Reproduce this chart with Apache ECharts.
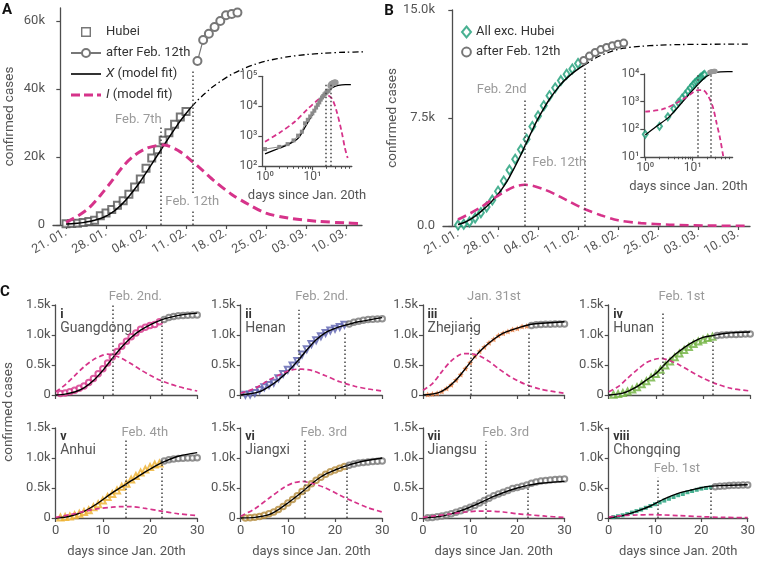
<!DOCTYPE html>
<html><head><meta charset="utf-8">
<script src="https://cdn.jsdelivr.net/npm/echarts@6/dist/echarts.min.js"></script>
<style>html,body{margin:0;padding:0;background:#fff}#c{width:758px;height:565px}</style>
</head><body><div id="c"></div>
<script>
// ---------- shared tick labels ----------
const dateTickDays = [1, 8, 15, 22, 29, 36, 43, 50];
const dateTickLabels = ['21. 01.', '28. 01.', '04. 02.', '11. 02.', '18. 02.', '25. 02.', '03. 03.', '10. 03.'];
const logMajorTicks = [1, 10];
const logMinorTicks = [2, 3, 4, 5, 6, 7, 8, 9, 20, 30, 40, 50, 60];

// ---------- Panel A : Hubei ----------
const hubeiDays = [1,2,3,4,5,6,7,8,9,10,11,12,13,14,15,16,17,18,19,20,21,22];
const hubeiCases = [375,444,549,729,1052,1423,2714,3554,4586,5806,7153,9074,11177,13522,16678,19665,22112,24953,27100,29631,31728,33366];
const hubeiAfterDays = [24,25,26,27,28,29,30,31];
const hubeiAfterCases = [48206,54406,56249,58182,59989,61682,62031,62442];
const hubeiFitXDays = [1,2,3,4,5,6,7,8,9,10,11,12,13,14,15,16,17,18,19,20,21,22,23];
const hubeiFitX = [280,350,500,700,1000,1400,1900,2600,3600,4900,6500,8400,10500,12800,15300,17900,20500,23100,25700,28200,30600,32800,34800];
const hubeiFitXExtDays = [23,24,25,26,27,28,30,32,34,36,38,40,43,46,50,53];
const hubeiFitXExt = [34800,36600,38200,39700,41000,42200,44300,45900,47200,48200,48900,49500,50100,50500,50800,50900];
const hubeiFitIDays = [1,3,5,7,9,11,13,15,17,18,19,21,23,25,27,30,33,36,40,45,50,52.5];
const hubeiFitI = [800,2600,5000,8700,12900,17300,20500,22500,23400,23500,23200,21500,18800,15900,12900,9000,6000,3500,2000,1100,600,450];
const hubeiMarkDays = [17.5, 23.1];
const hubeiMarkTops = [28900, 45100];
// inset A (log-log)
const hubeiInsetXDays = [1,2,3,5,7,10,14.5,20,25,30,35,42,50,65];
const hubeiInsetX = [260,400,520,860,2000,5300,14700,30000,40000,46000,49500,52000,52500,52500];
const hubeiInsetIDays = [1,2,4.3,8.2,14.5,19.2,25.6,32.7,41.6,48.8,55.6];
const hubeiInsetI = [660,1300,3100,8500,18500,24500,18500,6600,1400,400,190];
const hubeiInsetMarkDays = [19.2, 24.8];

// ---------- Panel B : all except Hubei ----------
const otherDays = [1,2,3,4,5,6,7,8,9,10,11,12,13,14,15,16,17,18,19,20,21,22];
const otherCases = [65,127,281,558,923,1321,1801,2420,3125,3886,4638,5306,6028,6916,7646,8353,9049,9593,10098,10540,10910,11287];
const otherAfterDays = [23,24,25,26,27,28,29,30];
const otherAfterCases = [11500,11800,12050,12250,12400,12520,12620,12700];
const otherFitXDays = [1,2,3,4,5,6,7,8,9,10,11,12,13,14,15,16,17,18,19,20,21,22,23];
const otherFitX = [100,230,420,680,1000,1350,1750,2200,2750,3400,4150,4950,5800,6650,7450,8150,8800,9350,9850,10250,10600,10900,11150];
const otherFitXExtDays = [23,24,25,26,27,28,30,33,36,40,45,52];
const otherFitXExt = [11150,11400,11650,11850,12000,12150,12350,12480,12550,12600,12620,12630];
const otherFitIDays = [1,3,5,7,9,11,12.7,14,16,18,20,23,26,29,33,38,45,52];
const otherFitI = [450,850,1300,1850,2350,2750,2860,2800,2550,2200,1800,1200,750,400,200,90,30,10];
const otherMarkDays = [12.7, 23.1];
const otherMarkTops = [8860, 11100];
// inset B
const otherInsetXDays = [1,1.68,3.2,6.2,11.8,19.2,31,55,70];
const otherInsetX = [62,123,280,1000,3500,8000,11500,12200,12200];
const otherInsetIDays = [1,2.33,5.2,8.5,12.8,16.3,20.9,26.6,32.3,38,44.6];
const otherInsetI = [430,530,1000,1700,2600,2600,1700,660,160,47,10];
const otherInsetMarkDays = [12.7, 24];

// ---------- Panel C : provinces ----------
const provDays = [1,2,3,4,5,6,7,8,9,10,11,12,13,14,15,16,17,18,19,20,21,22];
const provAfterDays = [23,24,25,26,27,28,29,30];
const provNumerals = ['i','ii','iii','iv','v','vi','vii','viii'];
const provNames = ['Guangdong','Henan','Zhejiang','Hunan','Anhui','Jiangxi','Jiangsu','Chongqing'];
const provPeakLabels = ['Feb. 2nd.','Feb. 2nd.','Jan. 31st','Feb. 1st','Feb. 4th','Feb. 3rd','Feb. 3rd','Feb. 1st'];
const provPeakDays = [12.1,12.4,10.2,11.4,14.8,13.5,13.4,10.6];
const provPeakTops = [1500,1420,1330,1400,1300,1300,1280,670];
const provPeakLabelY = [1630,1630,1630,1630,1420,1420,1420,820];
const provCutDays = [22.4,22.1,22.4,22.0,22.4,22.4,22.3,22.0];
const provCutTops = [1220,1030,1050,890,970,920,580,530];

const gdCases = [26,32,53,78,111,151,207,277,354,436,535,632,725,813,895,970,1034,1095,1131,1159,1177,1219];
const gdAfter = [1260,1290,1310,1320,1325,1330,1333,1335];
const gdXDays = [0,2,4,6,8,10,12,14,16,18,20,22,24,27,30];
const gdX = [0,15,50,120,240,410,610,800,960,1080,1170,1240,1290,1340,1365];
const gdIDays = [0,2,4,6,8,10,11,12,14,16,18,20,22,24,26,28,30];
const gdI = [55,170,320,470,590,665,680,670,610,520,420,330,250,190,140,100,67];

const hnCases = [5,9,32,83,128,168,206,278,352,422,493,566,675,764,851,914,981,1033,1073,1105,1135,1169];
const hnAfter = [1184,1212,1231,1246,1257,1262,1265,1270];
const hnXDays = [0,2,4,6,8,10,12,14,16,18,20,22,25,30];
const hnX = [0,20,55,140,250,390,560,750,920,1040,1110,1160,1220,1290];
const hnIDays = [0,3,6,8,10,12,13,15,18,21,24,27,30];
const hnI = [30,110,250,330,400,430,430,410,320,220,150,100,67];

const zjCases = [8,18,30,60,110,170,250,340,440,540,650,730,800,870,930,990,1030,1060,1090,1110,1140,1150];
const zjAfter = [1160,1170,1175,1180,1180,1185,1185,1185];
const zjXDays = [0,3,5,7,9,11,13,15,17,19,21,23,26,30];
const zjX = [0,30,110,250,440,640,800,930,1030,1090,1140,1180,1200,1220];
const zjIDays = [0,2,4,6,8,9,10,12,14,16,18,20,22,25,30];
const zjI = [80,190,390,570,680,690,690,650,560,440,330,240,170,95,30];

const hunCases = [5,15,35,60,90,130,180,230,290,350,420,490,560,630,690,750,800,850,890,920,950,970];
const hunAfter = [990,1000,1005,1010,1010,1012,1015,1015];
const hunXDays = [0,3,6,8,10,12,14,16,18,20,22,25,30];
const hunX = [0,30,140,250,360,520,670,790,890,960,990,1030,1050];
const hunIDays = [0,2,4,6,8,10,11,13,15,17,20,23,26,30];
const hunI = [55,140,280,420,540,600,610,570,500,410,280,180,110,67];

const ahCases = [10,15,25,45,70,100,130,180,230,290,350,400,460,520,570,640,700,760,810,850,890,910];
const ahAfter = [950,970,985,990,995,1000,1000,1005];
const ahXDays = [0,3,6,9,12,15,18,21,23,26,30];
const ahX = [0,30,110,250,420,570,720,860,940,1030,1090];
const ahIDays = [0,3,6,9,12,14,16,19,22,26,30];
const ahI = [10,55,110,155,180,190,190,160,120,70,40];

const jxCases = [2,5,12,25,45,70,100,140,190,250,310,370,440,500,570,630,680,730,770,800,830,860];
const jxAfter = [880,900,915,925,935,940,945,950];
const jxXDays = [0,3,6,8,10,12,14,16,18,20,22,25,30];
const jxX = [0,10,55,140,250,370,500,630,730,800,860,930,1000];
const jxIDays = [0,3,6,9,11,13,15,18,21,24,27,30];
const jxI = [30,155,330,500,580,610,580,500,380,270,170,100];

const jsCases = [3,10,20,35,50,70,95,120,150,180,210,250,290,330,370,400,430,460,490,510,530,550];
const jsAfter = [580,600,615,625,635,640,645,650];
const jsXDays = [0,3,6,9,12,15,18,20,22,25,30];
const jsX = [0,20,70,150,250,360,450,500,540,580,610];
const jsIDays = [0,3,6,9,12,14,17,20,23,26,30];
const jsI = [10,40,70,100,115,115,100,70,50,30,10];

const cqCases = [15,30,45,65,90,115,140,170,200,230,260,290,320,350,380,400,430,450,470,490,500,510];
const cqAfter = [520,530,535,540,545,545,550,550];
const cqXDays = [0,3,6,9,12,15,18,21,24,30];
const cqX = [0,40,110,200,320,410,470,520,540,555];
const cqIDays = [0,3,6,9,12,15,20,25,30];
const cqI = [17,40,50,55,50,40,22,10,5];

// ---------- build option ----------
const MAG = '#d6338a', AX = '#4d4d4d', TXT = '#555', LBL = '#9a9a9a';
const FONT = 'Roboto';
const pairs = (xs, ys) => xs.map((x, i) => [x, ys[i]]);
const sup = ['⁰','¹','²','³','⁴','⁵','⁶'];
const logFmt = v => '10' + sup[Math.round(Math.log10(v))];

function vlines(xs, y0, tops) {
  return {
    symbol: ['none', 'none'], silent: true, animation: false,
    label: { show: false },
    lineStyle: { color: '#444', type: [1.5, 2.5], width: 1.5 },
    emphasis: { disabled: true },
    data: xs.map((x, i) => [{ coord: [x, y0] }, { coord: [x, Array.isArray(tops) ? tops[i] : tops] }])
  };
}
function labelPoints(items) {
  return {
    symbol: 'circle', symbolSize: 0, silent: true, animation: false,
    data: items.map(it => ({
      coord: [it.x, it.y],
      label: Object.assign({ show: true, formatter: it.text, color: LBL, fontSize: 13, fontFamily: FONT,
        position: 'inside', align: it.align || 'center', verticalAlign: 'middle', offset: it.offset || [0, 0] }, it.extra || {})
    }))
  };
}
const axLine = { show: true, lineStyle: { color: AX, width: 1.3 } };
const axTick = { show: true, length: 4, lineStyle: { color: AX, width: 1.2 } };

const grid = [
  { left: 53, top: 8, width: 309, height: 217 },
  { left: 262.3, top: 76.3, width: 89.5, height: 90 },
  { left: 443, top: 10, width: 307, height: 216 },
  { left: 644.3, top: 74, width: 88.3, height: 82.8 }
];
const xAxis = [], yAxis = [], series = [];

// A main axes
xAxis.push({ type: 'value', gridIndex: 0, min: -1.28, max: 52.8, axisLine: axLine,
  axisTick: Object.assign({}, axTick, { customValues: dateTickDays }),
  axisLabel: { customValues: dateTickDays, rotate: 30, color: TXT, fontSize: 12.5, margin: 7,
    formatter: v => dateTickLabels[dateTickDays.indexOf(Math.round(v))] || '' },
  splitLine: { show: false } });
yAxis.push({ type: 'value', gridIndex: 0, min: 0, max: 63800, axisLine: axLine,
  axisTick: Object.assign({}, axTick, { customValues: [0, 20000, 40000, 60000] }),
  axisLabel: { customValues: [0, 20000, 40000, 60000], color: TXT, fontSize: 13, formatter: v => v === 0 ? '0' : (v / 1000) + 'k' },
  splitLine: { show: false }, name: 'confirmed cases', nameLocation: 'middle', nameGap: 36,
  nameTextStyle: { color: TXT, fontSize: 13.5 } });
// A inset axes
xAxis.push({ type: 'log', gridIndex: 1, min: 0.877, max: 68, axisLine: axLine,
  axisTick: Object.assign({}, axTick, { customValues: logMajorTicks }),
  axisLabel: { customValues: logMajorTicks, color: TXT, fontSize: 12, margin: 5, formatter: logFmt },
  splitLine: { show: false }, name: 'days since Jan. 20th', nameLocation: 'middle', nameGap: 23,
  nameTextStyle: { color: TXT, fontSize: 13 } });
xAxis.push({ type: 'log', gridIndex: 1, min: 0.877, max: 68, position: 'bottom', offset: 0, axisLine: { show: false },
  axisTick: { show: true, length: 2.5, customValues: logMinorTicks, lineStyle: { color: AX, width: 1 } },
  axisLabel: { show: false }, splitLine: { show: false } });
yAxis.push({ type: 'log', gridIndex: 1, min: 100, max: 100000, axisLine: axLine,
  axisTick: Object.assign({}, axTick, { customValues: [100, 1000, 10000, 100000] }),
  axisLabel: { customValues: [100, 1000, 10000, 100000], color: TXT, fontSize: 12, margin: 5, formatter: logFmt },
  splitLine: { show: false } });
// B main
xAxis.push({ type: 'value', gridIndex: 2, min: -1.63, max: 52.1, axisLine: axLine,
  axisTick: Object.assign({}, axTick, { customValues: dateTickDays }),
  axisLabel: { customValues: dateTickDays, rotate: 30, color: TXT, fontSize: 12.5, margin: 7,
    formatter: v => dateTickLabels[dateTickDays.indexOf(Math.round(v))] || '' },
  splitLine: { show: false } });
yAxis.push({ type: 'value', gridIndex: 2, min: 0, max: 15000, interval: 7500, axisLine: axLine, axisTick: axTick,
  axisLabel: { color: TXT, fontSize: 13, formatter: v => v === 0 ? '0.0' : (v / 1000).toFixed(1) + 'k' },
  splitLine: { show: false }, name: 'confirmed cases', nameLocation: 'middle', nameGap: 36,
  nameTextStyle: { color: TXT, fontSize: 13.5 } });
// B inset
xAxis.push({ type: 'log', gridIndex: 3, min: 0.955, max: 70, axisLine: axLine,
  axisTick: Object.assign({}, axTick, { customValues: logMajorTicks }),
  axisLabel: { customValues: logMajorTicks, color: TXT, fontSize: 12, margin: 5, formatter: logFmt },
  splitLine: { show: false }, name: 'days since Jan. 20th', nameLocation: 'middle', nameGap: 23,
  nameTextStyle: { color: TXT, fontSize: 13 } });
xAxis.push({ type: 'log', gridIndex: 3, min: 0.955, max: 70, position: 'bottom', offset: 0, axisLine: { show: false },
  axisTick: { show: true, length: 2.5, customValues: logMinorTicks, lineStyle: { color: AX, width: 1 } },
  axisLabel: { show: false }, splitLine: { show: false } });
yAxis.push({ type: 'log', gridIndex: 3, min: 10, max: 10000, axisLine: axLine,
  axisTick: Object.assign({}, axTick, { customValues: [10, 100, 1000, 10000] }),
  axisLabel: { customValues: [10, 100, 1000, 10000], color: TXT, fontSize: 12, margin: 5, formatter: logFmt },
  splitLine: { show: false } });

// ---- A series ----
series.push({ name: 'Hubei', type: 'scatter', xAxisIndex: 0, yAxisIndex: 0, data: pairs(hubeiDays, hubeiCases),
  symbol: 'emptyRect', symbolSize: 7, itemStyle: { color: '#555', borderWidth: 1.2 } });
series.push({ name: 'after Feb. 12th', type: 'line', xAxisIndex: 0, yAxisIndex: 0, data: pairs(hubeiAfterDays, hubeiAfterCases),
  symbol: 'emptyCircle', symbolSize: 8, lineStyle: { color: '#777', width: 1.2 }, itemStyle: { color: '#777', borderWidth: 1.2 } });
series.push({ name: 'X (model fit)', type: 'line', xAxisIndex: 0, yAxisIndex: 0, data: pairs(hubeiFitXDays, hubeiFitX),
  symbol: 'none', smooth: 0.3, lineStyle: { color: '#000', width: 1.5 }, itemStyle: { color: '#000' },
  markLine: vlines(hubeiMarkDays, 0, hubeiMarkTops) });
series.push({ type: 'line', xAxisIndex: 0, yAxisIndex: 0, data: pairs(hubeiFitXExtDays, hubeiFitXExt),
  symbol: 'none', smooth: 0.3, lineStyle: { color: '#000', width: 1.3, type: [6, 3, 1.5, 3] } });
series.push({ name: 'I (model fit)', type: 'line', xAxisIndex: 0, yAxisIndex: 0, data: pairs(hubeiFitIDays, hubeiFitI),
  symbol: 'none', smooth: 0.3, lineStyle: { color: MAG, width: 3, type: [9, 5] }, itemStyle: { color: MAG },
  markPoint: labelPoints([
    { x: 13.65, y: 30900, text: 'Feb. 7th' },
    { x: 23.1, y: 6900, text: 'Feb. 12th', extra: { backgroundColor: '#fff', padding: [1, 1] } }
  ]) });
// A inset
series.push({ type: 'line', xAxisIndex: 1, yAxisIndex: 1, data: pairs(hubeiDays, hubeiCases),
  symbol: 'rect', symbolSize: 4, lineStyle: { color: '#888', width: 1 }, itemStyle: { color: '#8a8a8a' } });
series.push({ type: 'line', xAxisIndex: 1, yAxisIndex: 1, data: pairs(hubeiAfterDays, hubeiAfterCases),
  symbol: 'circle', symbolSize: 6, lineStyle: { color: '#999', width: 1 }, itemStyle: { color: '#999' } });
series.push({ type: 'line', xAxisIndex: 1, yAxisIndex: 1, data: pairs(hubeiInsetXDays, hubeiInsetX),
  symbol: 'none', smooth: 0.3, lineStyle: { color: '#000', width: 1.3 } });
series.push({ type: 'line', xAxisIndex: 1, yAxisIndex: 1, data: pairs(hubeiInsetIDays, hubeiInsetI),
  symbol: 'none', smooth: 0.3, lineStyle: { color: MAG, width: 1.8, type: [5, 3] },
  markLine: vlines(hubeiInsetMarkDays, 100, 60000) });

// ---- B series ----
series.push({ name: 'All exc. Hubei', type: 'scatter', xAxisIndex: 3, yAxisIndex: 2, data: pairs(otherDays, otherCases),
  symbol: 'emptyDiamond', symbolSize: [6, 9], itemStyle: { color: '#1b9e77', borderWidth: 1.3 } });
series.push({ name: 'after Feb. 12th ', type: 'line', xAxisIndex: 3, yAxisIndex: 2, data: pairs(otherAfterDays, otherAfterCases),
  symbol: 'emptyCircle', symbolSize: 7, lineStyle: { color: '#777', width: 1.2 }, itemStyle: { color: '#777', borderWidth: 1.2 } });
series.push({ type: 'line', xAxisIndex: 3, yAxisIndex: 2, data: pairs(otherFitXDays, otherFitX),
  symbol: 'none', smooth: 0.3, lineStyle: { color: '#000', width: 1.5 },
  markLine: vlines(otherMarkDays, 0, otherMarkTops) });
series.push({ type: 'line', xAxisIndex: 3, yAxisIndex: 2, data: pairs(otherFitXExtDays, otherFitXExt),
  symbol: 'none', smooth: 0.3, lineStyle: { color: '#000', width: 1.3, type: [6, 3, 1.5, 3] } });
series.push({ type: 'line', xAxisIndex: 3, yAxisIndex: 2, data: pairs(otherFitIDays, otherFitI),
  symbol: 'none', smooth: 0.3, lineStyle: { color: MAG, width: 2.6, type: [9, 5] },
  markPoint: labelPoints([
    { x: 8.64, y: 9490, text: 'Feb. 2nd' },
    { x: 18.7, y: 4390, text: 'Feb. 12th' }
  ]) });
// B inset
series.push({ type: 'scatter', xAxisIndex: 4, yAxisIndex: 3, data: pairs(otherDays, otherCases),
  symbol: 'emptyDiamond', symbolSize: [5, 7], itemStyle: { color: '#1b9e77', borderWidth: 1 } });
series.push({ type: 'line', xAxisIndex: 4, yAxisIndex: 3, clip: false, data: pairs(otherAfterDays, otherAfterCases),
  symbol: 'circle', symbolSize: 5, lineStyle: { color: '#999', width: 1 }, itemStyle: { color: '#999' } });
series.push({ type: 'line', xAxisIndex: 4, yAxisIndex: 3, clip: false, data: pairs(otherInsetXDays, otherInsetX),
  symbol: 'none', smooth: 0.3, lineStyle: { color: '#000', width: 1.3 } });
series.push({ type: 'line', xAxisIndex: 4, yAxisIndex: 3, data: pairs(otherInsetIDays, otherInsetI),
  symbol: 'none', smooth: 0.3, lineStyle: { color: MAG, width: 1.8, type: [5, 3] },
  markLine: vlines(otherInsetMarkDays, 10, 10000) });

// ---- C panels ----
const prov = [
  { cases: gdCases, after: gdAfter, xd: gdXDays, x: gdX, idd: gdIDays, iv: gdI, color: '#d6338a', symbol: 'emptyCircle', size: 5.5 },
  { cases: hnCases, after: hnAfter, xd: hnXDays, x: hnX, idd: hnIDays, iv: hnI, color: '#5a5fae', symbol: 'emptyTriangle', size: 6, rot: 180 },
  { cases: zjCases, after: zjAfter, xd: zjXDays, x: zjX, idd: zjIDays, iv: zjI, color: '#e8793a',
    symbol: 'path://M0,-10 L2.9,-4 L9.5,-3.1 L4.7,1.5 L5.9,8.1 L0,5 L-5.9,8.1 L-4.7,1.5 L-9.5,-3.1 L-2.9,-4 Z', size: 6 },
  { cases: hunCases, after: hunAfter, xd: hunXDays, x: hunX, idd: hunIDays, iv: hunI, color: '#6fb23f', symbol: 'emptyTriangle', size: 6 },
  { cases: ahCases, after: ahAfter, xd: ahXDays, x: ahX, idd: ahIDays, iv: ahI, color: '#eeb02e', symbol: 'emptyTriangle', size: 6 },
  { cases: jxCases, after: jxAfter, xd: jxXDays, x: jxX, idd: jxIDays, iv: jxI, color: '#b3893a', symbol: 'emptyCircle', size: 5.5 },
  { cases: jsCases, after: jsAfter, xd: jsXDays, x: jsX, idd: jsIDays, iv: jsI, color: '#7a7a7a', symbol: 'emptyCircle', size: 5.5 },
  { cases: cqCases, after: cqAfter, xd: cqXDays, x: cqX, idd: cqIDays, iv: cqI, color: '#1b9e77', symbol: 'rect', size: 4 }
];
const cLefts = [55.7, 240.7, 423, 608.7], cTops = [305, 428];
const graphics = [];
prov.forEach((p, k) => {
  const row = Math.floor(k / 4), col = k % 4;
  const gi = grid.length;
  grid.push({ left: cLefts[col], top: cTops[row], width: 141.5, height: 90 });
  const xi = xAxis.length, yi = yAxis.length;
  xAxis.push({ type: 'value', gridIndex: gi, min: 0, max: 30, interval: 10, axisLine: axLine, axisTick: axTick,
    axisLabel: { show: row === 1, color: TXT, fontSize: 13, margin: 6 }, splitLine: { show: false },
    name: row === 1 ? 'days since Jan. 20th' : '', nameLocation: 'middle', nameGap: 27,
    nameTextStyle: { color: TXT, fontSize: 13 } });
  yAxis.push({ type: 'value', gridIndex: gi, min: 0, max: 1500, interval: 500, axisLine: axLine, axisTick: axTick,
    axisLabel: { color: TXT, fontSize: 13, margin: 5, formatter: v => v === 0 ? '0' : (v / 1000).toFixed(1) + 'k' },
    splitLine: { show: false } });
  series.push({ type: 'scatter', xAxisIndex: xi, yAxisIndex: yi, data: pairs(provDays, p.cases),
    symbol: p.symbol, symbolSize: p.size, symbolRotate: p.rot || 0,
    itemStyle: { color: p.color, borderWidth: 1.1 } });
  series.push({ type: 'scatter', xAxisIndex: xi, yAxisIndex: yi, data: pairs(provAfterDays, p.after),
    symbol: 'emptyCircle', symbolSize: 5.5, itemStyle: { color: '#777', borderWidth: 1 } });
  series.push({ type: 'line', xAxisIndex: xi, yAxisIndex: yi, data: pairs(p.xd, p.x), symbol: 'none', smooth: 0.3,
    lineStyle: { color: '#000', width: 1.4 },
    markLine: vlines([provPeakDays[k], provCutDays[k]], 0, [provPeakTops[k], provCutTops[k]]) });
  // labels above the plot top are anchored at the axis max and shifted up
  const ly = Math.min(provPeakLabelY[k], 1500);
  const dy = (provPeakLabelY[k] - ly) / 1500 * 90;
  series.push({ type: 'line', xAxisIndex: xi, yAxisIndex: yi, data: pairs(p.idd, p.iv), symbol: 'none', smooth: 0.3,
    lineStyle: { color: MAG, width: 1.7, type: [5, 3] },
    markPoint: labelPoints([{ x: provPeakDays[k], y: ly, text: provPeakLabels[k], align: 'left', offset: [-4, -dy] }]) });
  const tx = cLefts[col] + 4.5;
  const ny = row === 0 ? 314.5 : 436.5;
  graphics.push({ type: 'text', x: tx, y: ny, silent: true,
    style: { text: provNumerals[k], fill: '#333', fontSize: 12.5, fontWeight: 'bold', fontFamily: FONT, align: 'left', verticalAlign: 'middle' } });
  graphics.push({ type: 'text', x: tx, y: ny + 14, silent: true,
    style: { text: provNames[k], fill: TXT, fontSize: 14, fontFamily: FONT, align: 'left', verticalAlign: 'middle' } });
});

graphics.push({ type: 'text', x: 7, y: 10, silent: true, style: { text: 'A', fill: '#111', fontSize: 15, fontWeight: 'bold', fontFamily: FONT, align: 'center', verticalAlign: 'middle' } });
graphics.push({ type: 'text', x: 389, y: 11.5, silent: true, style: { text: 'B', fill: '#111', fontSize: 15, fontWeight: 'bold', fontFamily: FONT, align: 'center', verticalAlign: 'middle' } });
graphics.push({ type: 'text', x: 5, y: 292, silent: true, style: { text: 'C', fill: '#111', fontSize: 15, fontWeight: 'bold', fontFamily: FONT, align: 'center', verticalAlign: 'middle' } });
graphics.push({ type: 'text', x: 9, y: 412, rotation: Math.PI / 2, silent: true, style: { text: 'confirmed cases', fill: TXT, fontSize: 13.5, fontFamily: FONT, align: 'center', verticalAlign: 'middle' } });

const legendFmt = name => name === 'X (model fit)' ? '{it|X} (model fit)' : (name === 'I (model fit)' ? '{it|I} (model fit)' : name);
const ICON_SQUARE = 'path://M0,0H10V10H0Z M1.4,1.4V8.6H8.6V1.4Z';
const ICON_SOLID = 'path://M0,0H30V1.6H0Z';
const ICON_DASH = 'path://M0,0H9V3H0Z M13,0H22V3H13Z M26,0H30V3H26Z';
const option = {
  animation: false,
  backgroundColor: '#fff',
  textStyle: { fontFamily: FONT },
  grid, xAxis, yAxis, series,
  legend: [
    { orient: 'vertical', left: 65, top: 19, itemWidth: 30, itemHeight: 10, itemGap: 5, selectedMode: false,
      data: [
        { name: 'Hubei', icon: ICON_SQUARE, itemStyle: { color: '#555', borderWidth: 0 } },
        { name: 'after Feb. 12th' },
        { name: 'X (model fit)', icon: ICON_SOLID, itemStyle: { color: '#000', borderWidth: 0 } },
        { name: 'I (model fit)', icon: ICON_DASH, itemStyle: { color: MAG, borderWidth: 0 } }
      ], formatter: legendFmt,
      textStyle: { color: '#333', fontSize: 13, lineHeight: 16, rich: { it: { fontStyle: 'italic', fontSize: 13.5, color: '#333' } } } },
    { orient: 'vertical', left: 456, top: 19, itemWidth: 9, itemHeight: 11, itemGap: 4, selectedMode: false,
      data: ['All exc. Hubei', 'after Feb. 12th '],
      textStyle: { color: '#333', fontSize: 13, lineHeight: 16 } }
  ],
  graphic: graphics
};
const chart = echarts.init(document.getElementById('c'));
chart.setOption(option);
</script>
</body></html>
